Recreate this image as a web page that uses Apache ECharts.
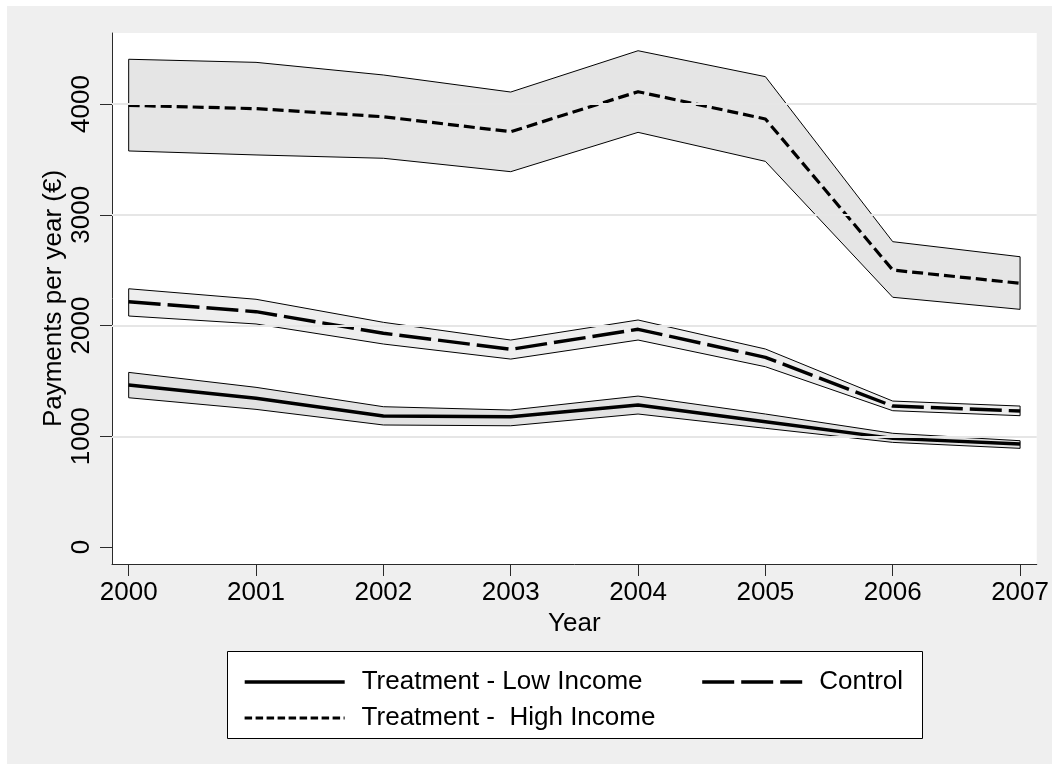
<!DOCTYPE html>
<html>
<head>
<meta charset="utf-8">
<script src="https://cdn.jsdelivr.net/npm/echarts@6/dist/echarts.min.js"></script>
<style>
  html, body { margin: 0; padding: 0; background: #ffffff; }
  #chart { position: absolute; left: 7px; top: 6px; width: 1045px; height: 758px; }
</style>
</head>
<body>
<div id="chart"></div>
<script>
// Years on the horizontal axis
const years = [2000, 2001, 2002, 2003, 2004, 2005, 2006, 2007];

// Treatment - Low Income: mean and confidence band
const lowMean  = [1463, 1343, 1183, 1177, 1282, 1131, 981, 930];
const lowUpper = [1577, 1442, 1267, 1237, 1363, 1201, 1027, 960];
const lowLower = [1348, 1243, 1102, 1095, 1201, 1072, 945, 891];

// Control: mean and confidence band
const ctrlMean  = [2215, 2125, 1930, 1785, 1966, 1713, 1273, 1228];
const ctrlUpper = [2332, 2237, 2029, 1869, 2050, 1788, 1318, 1273];
const ctrlLower = [2086, 2014, 1833, 1697, 1869, 1628, 1231, 1186];

// Treatment - High Income: mean and confidence band
const highMean  = [3988, 3958, 3885, 3750, 4111, 3865, 2501, 2381];
const highUpper = [4404, 4376, 4262, 4108, 4481, 4247, 2757, 2621];
const highLower = [3576, 3540, 3510, 3389, 3744, 3482, 2255, 2146];

// Value-axis ticks
const yTicks = [0, 1000, 2000, 3000, 4000];
const gridTicks = [1000, 2000, 3000, 4000];

const NAME_LOW = 'Treatment - Low Income';
const NAME_CTRL = 'Control';
const NAME_HIGH = 'Treatment -  High Income';

const FONT = '"Liberation Sans", Arial, Helvetica, sans-serif';
const AXIS_COLOR = '#2a2a2a';

// Closed polygon (upper edge forward, lower edge back) for a confidence band
function bandSeries(upper, lower, fill) {
  return {
    type: 'custom',
    coordinateSystem: 'cartesian2d',
    silent: true,
    z: 2,
    data: [[years[0], lower[0]]],
    renderItem: function (params, api) {
      const pts = [];
      for (let i = 0; i < years.length; i++) pts.push(api.coord([years[i], upper[i]]));
      for (let i = years.length - 1; i >= 0; i--) pts.push(api.coord([years[i], lower[i]]));
      return {
        type: 'polygon',
        shape: { points: pts },
        style: { fill: fill, stroke: '#000', lineWidth: 1 }
      };
    }
  };
}

function meanSeries(name, values, width, dash) {
  return {
    type: 'line',
    name: name,
    data: years.map((y, i) => [y, values[i]]),
    symbol: 'none',
    silent: true,
    z: 3,
    color: '#000',
    itemStyle: { color: '#000' },
    lineStyle: { color: '#000', width: width, type: dash, cap: 'butt', join: 'round' }
  };
}

const chart = echarts.init(document.getElementById('chart'), null, { renderer: 'canvas' });

const legendText = {
  fontFamily: FONT, fontSize: 26, color: '#000', lineHeight: 30,
  padding: [0, 0, 0, 12]
};

const legendCommon = {
  orient: 'horizontal',
  itemWidth: 100, itemHeight: 14, itemGap: 58,
  selectedMode: false, z: 5,
  itemStyle: { opacity: 0 },
  textStyle: legendText
};

chart.setOption({
  backgroundColor: '#efefef',
  animation: false,
  textStyle: { fontFamily: FONT },
  grid: {
    left: 105, top: 27, right: 14, bottom: 200,
    show: true, backgroundColor: '#ffffff', borderWidth: 0
  },
  xAxis: {
    type: 'value',
    min: 1999.869, max: 2007.131,
    name: 'Year', nameLocation: 'middle', nameGap: 47, nameMoveOverlap: false,
    nameTextStyle: { fontFamily: FONT, fontSize: 26, color: '#000' },
    axisLine: { show: true, onZero: false, lineStyle: { color: AXIS_COLOR, width: 1 } },
    axisTick: { show: true, length: 12, customValues: years, lineStyle: { color: AXIS_COLOR, width: 1 } },
    axisLabel: { customValues: years, fontFamily: FONT, fontSize: 26, color: '#000', margin: 16,
                 formatter: v => String(v) },
    splitLine: { show: false }
  },
  yAxis: {
    type: 'value',
    min: -153, max: 4641,
    name: 'Payments per year (€)', nameLocation: 'middle', nameGap: 45, nameRotate: 90,
    nameMoveOverlap: false,
    nameTextStyle: { fontFamily: FONT, fontSize: 26, color: '#000' },
    axisLine: { show: true, onZero: false, lineStyle: { color: AXIS_COLOR, width: 1 } },
    axisTick: { show: true, length: 12, customValues: yTicks, lineStyle: { color: AXIS_COLOR, width: 1 } },
    axisLabel: { customValues: yTicks, rotate: 90, fontFamily: FONT, fontSize: 26, color: '#000', margin: 17,
                 formatter: v => String(v) },
    splitLine: { show: false }
  },
  legend: [
    Object.assign({}, legendCommon, {
      data: [
        { name: NAME_LOW, lineStyle: { width: 3.4, type: 'solid' } },
        { name: NAME_CTRL, lineStyle: { width: 3.4, type: [32, 7] } }
      ],
      left: 231, top: 656
    }),
    Object.assign({}, legendCommon, {
      data: [{ name: NAME_HIGH, lineStyle: { width: 3.2, type: [7.5, 3.5] } }],
      left: 231, top: 692
    })
  ],
  graphic: [
    {
      type: 'rect', left: 220, top: 645, z: 1, silent: true,
      shape: { width: 695, height: 87 },
      style: { fill: '#ffffff', stroke: '#000', lineWidth: 1 }
    }
  ],
  series: [
    // light horizontal grid lines
    {
      type: 'line', data: [], silent: true, z: 1,
      markLine: {
        silent: true, symbol: 'none', label: { show: false },
        lineStyle: { color: '#e6e6e6', width: 2, type: 'solid' },
        data: gridTicks.map(v => ({ yAxis: v }))
      }
    },
    bandSeries(highUpper, highLower, '#e5e5e5'),
    bandSeries(ctrlUpper, ctrlLower, '#eeeeee'),
    bandSeries(lowUpper, lowLower, '#e2e2e2'),
    meanSeries(NAME_HIGH, highMean, 3.2, [11, 5]),
    meanSeries(NAME_CTRL, ctrlMean, 3.4, [32, 7]),
    meanSeries(NAME_LOW, lowMean, 3.4, 'solid')
  ]
});
</script>
</body>
</html>
